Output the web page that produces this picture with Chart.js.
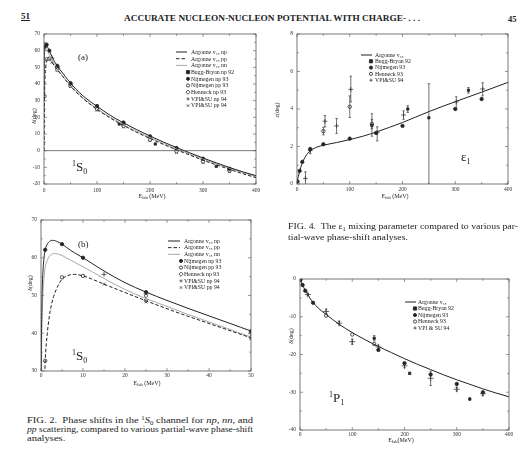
<!DOCTYPE html>
<html>
<head>
<meta charset="utf-8">
<script src="https://cdn.jsdelivr.net/npm/chart.js@4.4.1/dist/chart.umd.min.js"></script>
<style>
  html, body { margin: 0; padding: 0; background: #fff; }
  #page { position: relative; width: 523px; height: 453px; overflow: hidden; background: #fff;
          font-family: "Liberation Serif", "DejaVu Serif", serif; color: #222; }
  canvas { position: absolute; }
  .t { position: absolute; white-space: nowrap; line-height: 1; transform-origin: 0 50%; }
  .rot { position: absolute; white-space: nowrap; line-height: 1; transform: translate(-50%, -50%) rotate(-90deg); font-size: 6px; }
  .xt { position: absolute; white-space: nowrap; line-height: 1; transform: translate(-50%, -50%); font-size: 6px; }
  .xt sub { font-size: 4.5px; vertical-align: -1px; }
  .chan { position: absolute; white-space: nowrap; line-height: 1; font-size: 13px; }
  .chan sup { font-size: 8px; vertical-align: 5px; }
  .chan sub { font-size: 8px; vertical-align: -3px; }
  .cap sup { font-size: 5.5px; vertical-align: 3px; }
  .cap sub { font-size: 5.5px; vertical-align: -1.5px; }
</style>
</head>
<body>
<div id="page">
  <canvas id="cA"></canvas>
  <canvas id="cB"></canvas>
  <canvas id="cE"></canvas>
  <canvas id="cP"></canvas>

  <div class="t" style="left:21px; top:12px; font-size:9px; font-weight:bold; text-decoration:underline;">51</div>
  <div class="t fit" data-w="296" style="left:124px; top:14px; font-size:8.5px; font-weight:bold;">ACCURATE NUCLEON-NUCLEON POTENTIAL WITH CHARGE- . . .</div>
  <div class="t" style="left:508px; top:15px; font-size:8.5px; font-weight:bold;">45</div>

  <div class="t" style="left:78px; top:53px; font-size:9px;">(a)</div>
  <div class="t" style="left:78px; top:240px; font-size:9px;">(b)</div>

  <div class="chan" style="left:72px; top:160px;"><sup>1</sup>S<sub>0</sub></div>
  <div class="chan" style="left:72px; top:349px;"><sup>1</sup>S<sub>0</sub></div>
  <div class="chan" style="left:461px; top:150px;">ε<sub>1</sub></div>
  <div class="chan" style="left:329px; top:391px;"><sup>1</sup>P<sub>1</sub></div>

  <div class="rot" style="left:34px; top:116px;">δ(deg)</div>
  <div class="xt" style="left:152px; top:197px;">E<sub>lab</sub> (MeV)</div>
  <div class="rot" style="left:30px; top:283px;">δ(deg)</div>
  <div class="xt" style="left:147px; top:384px;">E<sub>lab</sub> (MeV)</div>
  <div class="rot" style="left:277px; top:110px;">ε(deg)</div>
  <div class="xt" style="left:395px; top:197px;">E<sub>lab</sub> (MeV)</div>
  <div class="rot" style="left:291px; top:336px;">δ(deg)</div>
  <div class="xt" style="left:401px; top:441px;">E<sub>lab</sub>(MeV)</div>

  <div class="cap" id="cap4">
    <div class="t fit" data-w="230" style="left:288px; top:222px; font-size:8.5px;">FIG. 4.&nbsp; The ε<sub>1</sub> mixing parameter compared to various par-</div>
    <div class="t" style="left:288px; top:233px; font-size:8.5px;">tial-wave phase-shift analyses.</div>
  </div>
  <div class="cap" id="cap2">
    <div class="t fit" data-w="226" style="left:27px; top:416px; font-size:8.5px;">FIG. 2.&nbsp; Phase shifts in the <sup>1</sup><i>S</i><sub>0</sub> channel for <i>np</i>, <i>nn</i>, and</div>
    <div class="t fit" data-w="226" style="left:27px; top:425px; font-size:8.5px;"><i>pp</i> scattering, compared to various partial-wave phase-shift</div>
    <div class="t" style="left:27px; top:434px; font-size:8.5px;">analyses.</div>
  </div>
</div>

<script>
// ---------- 1S0 phase shifts (deg) vs lab energy (MeV) ----------
const s0Energy = [0.05,0.1,0.2,0.3,0.5,0.7,1,1.5,2,2.5,3,4,5,6,7,8,10,12,15,20,25,30,35,40,45,50,60,75,100,125,150,175,200,225,250,275,300,325,350,375,400];
const s0Np = [29.7,38.4,47.2,52.0,57.0,59.8,62.1,63.6,64.3,64.6,64.6,64.2,63.6,62.8,62.0,61.3,60.0,58.6,56.5,53.4,50.9,48.7,46.6,44.6,42.6,40.6,37.0,32.5,26.6,21.2,16.7,12.6,8.8,5.2,1.9,-1.3,-4.4,-7.3,-10.1,-12.7,-15.0];
const s0Pp = [0,0.1,1.5,4.5,14,23,32.7,40.0,44.6,47.6,49.7,52.5,54.3,55.1,55.5,55.6,55.2,54.4,53.0,50.8,48.6,46.5,44.5,42.6,40.7,38.8,35.4,30.9,24.8,19.6,15.1,11.0,7.3,3.8,0.5,-2.6,-5.7,-8.5,-11.2,-13.8,-16.2];
const s0Nn = [24.0,32.0,40.6,45.6,51.4,54.5,57.4,59.3,60.4,60.9,61.1,61.0,60.6,60.0,59.4,58.8,57.6,56.4,54.5,51.6,49.2,47.1,45.0,43.0,41.0,39.0,35.7,31.3,25.2,20.1,15.6,11.6,7.9,4.4,1.1,-2.0,-5.0,-7.9,-10.6,-13.1,-15.5];

const s0BuggNpE = [142,210,325];
const s0BuggNp  = [16.0,4.0,-9.4];
const s0NijmE   = [1,5,10,25,50,100,150,200,250,300,350];
const s0NijmNp  = [62.1,63.6,60.0,50.9,40.5,26.8,16.9,8.6,1.6,-4.8,-10.9];
const s0NijmPp  = [32.7,54.8,55.2,48.7,38.9,24.9,14.8,6.6,-0.4,-6.5,-12.0];
const s0HenneckE  = [25];
const s0HenneckNp = [49.9];
const s0VpiE    = [15,25,50,100,150,200,250,300,350];
const s0VpiNp   = [55.6,50.4,39.9,25.6,15.8,7.8,0.8,-5.4,-11.5];
const s0VpiPp   = [53.0,48.3,38.5,24.3,14.2,6.0,-1.1,-7.2,-12.6];

// ---------- epsilon_1 mixing parameter (deg) ----------
const e1Energy = [0,1,2.5,5,7.5,10,15,20,25,30,40,50,75,100,125,150,175,200,250,300,350,400];
const e1Argonne = [0,0.2,0.4,0.66,0.92,1.12,1.42,1.63,1.77,1.87,1.99,2.07,2.21,2.37,2.55,2.77,3.02,3.28,3.86,4.39,4.9,5.42];
const e1BuggE = [142,210,250,325];
const e1Bugg  = [3.12,4.0,3.53,5.0];
const e1BuggLo = [2.55,3.82,-0.3,4.85];
const e1BuggHi = [3.75,4.18,5.35,5.15];
const e1NijmE = [1,5,10,25,50,100,150,200,300,350];
const e1Nijm  = [0.13,0.70,1.18,1.86,2.12,2.42,2.72,3.10,4.0,4.53];
const e1HenneckE = [50,100,142];
const e1Henneck  = [2.82,4.12,3.2];
const e1HenneckLo = [2.62,3.55,2.95];
const e1HenneckHi = [3.02,4.7,3.45];
const e1VpiE  = [16,25,53,75,102,152,202,302,352];
const e1Vpi   = [0.3,1.78,3.35,3.1,5.05,2.75,3.68,4.38,5.07];
const e1VpiLo = [-0.05,1.62,3.05,2.7,4.38,2.3,3.45,4.0,4.7];
const e1VpiHi = [0.65,1.95,3.65,3.5,5.75,3.05,3.9,4.65,5.4];

// ---------- 1P1 phase shifts (deg) ----------
const p1Energy = [0,2,5,10,15,20,25,35,50,75,100,125,150,175,200,225,250,275,300,325,350,375,400];
const p1Argonne = [0,-0.6,-1.6,-3.0,-4.1,-5.3,-6.2,-7.7,-9.4,-12.0,-14.2,-16.1,-17.9,-19.5,-21.1,-22.6,-24.0,-25.4,-26.7,-27.9,-29.1,-30.2,-31.2];
const p1BuggE = [142,210,325];
const p1Bugg  = [-15.7,-25.0,-31.8];
const p1BuggLo = [-16.4,-25.3,-32.1];
const p1BuggHi = [-15.0,-24.7,-31.5];
const p1NijmE = [1,5,10,25,150,200,250,300,350];
const p1Nijm  = [-0.2,-1.6,-3.1,-6.3,-18.8,-22.3,-25.3,-27.8,-30.0];
const p1HenneckE = [50,100,142];
const p1Henneck  = [-9.7,-14.7,-17.2];
const p1VpiE  = [15,50,75,100,150,200,250,300,350];
const p1Vpi   = [-4.1,-8.6,-11.7,-16.6,-18.0,-23.0,-26.3,-29.2,-30.4];
const p1VpiLo = [-4.4,-9.2,-12.2,-17.3,-18.5,-23.5,-28.2,-29.7,-30.9];
const p1VpiHi = [-3.8,-8.0,-11.2,-15.9,-17.5,-22.5,-24.4,-28.7,-29.9];

// tick values
const tickEnergy400 = [0,100,200,300,400];
const tickEnergy50  = [0,10,20,30,40,50];

// ---------- helpers ----------
const INK = '#222';
const FONT = '"Liberation Serif", "DejaVu Serif", serif';
const pts = (xs, ys) => xs.map((x, i) => ({ x, y: ys[i] }));

function curve(label, xs, ys, style) {
  return Object.assign({
    label, data: pts(xs, ys), showLine: true, pointRadius: 0,
    borderColor: INK, borderWidth: 1, cubicInterpolationMode: 'monotone', kind: 'line'
  }, style || {});
}
function marks(label, xs, ys, style, lo, hi) {
  return Object.assign({
    label, data: pts(xs, ys), showLine: false, pointRadius: 1.7, pointBorderWidth: 0.8,
    pointBorderColor: INK, pointBackgroundColor: INK, pointStyle: 'circle', kind: 'point',
    errLo: lo || null, errHi: hi || null
  }, style || {});
}
const FILLED_CIRCLE = { pointStyle: 'circle', pointBackgroundColor: INK };
const OPEN_CIRCLE   = { pointStyle: 'circle', pointBackgroundColor: '#fff' };
const OPEN_DIAMOND  = { pointStyle: 'rectRot', pointBackgroundColor: '#fff', pointRadius: 1.9 };
const FILLED_SQUARE = { pointStyle: 'rect', pointBackgroundColor: INK, pointRadius: 1.6 };
const PLUS          = { pointStyle: 'cross', pointRadius: 2.4, pointBorderWidth: 0.7 };
const TIMES         = { pointStyle: 'crossRot', pointRadius: 2.0, pointBorderWidth: 0.7 };

function drawMarker(ctx, ds, x, y) {
  const r = ds.pointRadius;
  ctx.save();
  ctx.strokeStyle = ds.pointBorderColor;
  ctx.fillStyle = ds.pointBackgroundColor;
  ctx.lineWidth = ds.pointBorderWidth;
  ctx.beginPath();
  switch (ds.pointStyle) {
    case 'rect': ctx.rect(x - r, y - r, 2 * r, 2 * r); ctx.fill(); ctx.stroke(); break;
    case 'rectRot': {
      const d = r * 1.3;
      ctx.moveTo(x, y - d); ctx.lineTo(x + d, y); ctx.lineTo(x, y + d); ctx.lineTo(x - d, y); ctx.closePath();
      ctx.fill(); ctx.stroke(); break;
    }
    case 'cross': ctx.moveTo(x - r, y); ctx.lineTo(x + r, y); ctx.moveTo(x, y - r); ctx.lineTo(x, y + r); ctx.stroke(); break;
    case 'crossRot': {
      const d = r * 0.75;
      ctx.moveTo(x - d, y - d); ctx.lineTo(x + d, y + d); ctx.moveTo(x + d, y - d); ctx.lineTo(x - d, y + d); ctx.stroke(); break;
    }
    default: ctx.arc(x, y, r, 0, Math.PI * 2); ctx.fill(); ctx.stroke();
  }
  ctx.restore();
}

// frame with inward ticks, optional zero line, error bars and an inset key
const paperPlot = {
  id: 'paperPlot',
  afterDatasetsDraw(chart, args, o) {
    const { ctx, scales: { x, y }, chartArea: a } = chart;
    ctx.save();
    ctx.beginPath(); ctx.rect(a.left, a.top, a.right - a.left, a.bottom - a.top); ctx.clip();
    chart.data.datasets.forEach(ds => {
      if (!ds.errLo) return;
      ctx.strokeStyle = '#333'; ctx.lineWidth = 0.7;
      ds.data.forEach((p, i) => {
        const px = x.getPixelForValue(p.x);
        const y1 = y.getPixelForValue(ds.errLo[i]);
        const y2 = y.getPixelForValue(ds.errHi[i]);
        ctx.beginPath();
        ctx.moveTo(px, y1); ctx.lineTo(px, y2);
        ctx.moveTo(px - 1.2, y1); ctx.lineTo(px + 1.2, y1);
        ctx.moveTo(px - 1.2, y2); ctx.lineTo(px + 1.2, y2);
        ctx.stroke();
      });
    });
    ctx.restore();
  },
  afterDraw(chart, args, o) {
    const { ctx, scales: { x, y }, chartArea: a } = chart;
    ctx.save();
    ctx.strokeStyle = '#555'; ctx.lineWidth = 0.8;
    ctx.strokeRect(a.left, a.top, a.right - a.left, a.bottom - a.top);
    if (o.zeroLine) {
      const py = y.getPixelForValue(0);
      ctx.beginPath(); ctx.moveTo(a.left, py); ctx.lineTo(a.right, py); ctx.stroke();
    }
    // inward tick marks: majors at labelled ticks, minors half-way
    const xt = x.ticks.map(t => t.value), yt = y.ticks.map(t => t.value);
    const half = v => v.slice(1).map((t, i) => (t + v[i]) / 2);
    ctx.lineWidth = 0.6;
    ctx.beginPath();
    const tx = (vals, len) => vals.forEach(v => { const p = x.getPixelForValue(v);
      ctx.moveTo(p, a.bottom); ctx.lineTo(p, a.bottom - len); ctx.moveTo(p, a.top); ctx.lineTo(p, a.top + len); });
    const ty = (vals, len) => vals.forEach(v => { const p = y.getPixelForValue(v);
      ctx.moveTo(a.left, p); ctx.lineTo(a.left + len, p); ctx.moveTo(a.right, p); ctx.lineTo(a.right - len, p); });
    tx(xt, 3); tx(half(xt), 1.8); ty(yt, 3); ty(half(yt), 1.8);
    ctx.stroke();

    // inset key
    const k = o.key;
    if (k) {
      ctx.font = k.size + 'px ' + FONT;
      ctx.textBaseline = 'middle';
      ctx.fillStyle = INK;
      let row = 0;
      chart.data.datasets.forEach(ds => {
        if (!ds.label) return;
        const yy = k.y + row * k.gap;
        if (ds.kind === 'line') {
          ctx.save();
          ctx.strokeStyle = ds.borderColor; ctx.lineWidth = ds.borderWidth;
          ctx.setLineDash(ds.borderDash || []);
          ctx.beginPath(); ctx.moveTo(k.x1, yy); ctx.lineTo(k.x2, yy); ctx.stroke();
          ctx.restore();
        } else {
          drawMarker(ctx, Object.assign({}, ds, { pointRadius: Math.min(ds.pointRadius, 1.6) }), k.mx, yy);
        }
        ctx.fillStyle = INK;
        ctx.fillText(ds.label, k.tx, yy + 0.3);
        row++;
      });
    }
    ctx.restore();
  }
};

function buildChart(id, box, xAxis, yAxis, datasets, opts) {
  const cv = document.getElementById(id);
  const left = box.l - 30, top = box.t - 6;
  const w = box.r - box.l + 36, h = box.b - box.t + 32;
  cv.style.left = left + 'px'; cv.style.top = top + 'px';
  cv.width = w; cv.height = h;
  cv.style.width = w + 'px'; cv.style.height = h + 'px';
  if (opts.key) {
    const k = opts.key;
    opts.key = { x1: k.x1 - left, x2: k.x2 - left, mx: k.mx - left, tx: k.tx - left, y: k.y - top, gap: k.gap, size: k.size };
  }
  const tickFont = { family: FONT, size: 5.5 };
  return new Chart(cv, {
    type: 'scatter',
    data: { datasets },
    options: {
      responsive: false, animation: false, devicePixelRatio: 1,
      layout: { padding: { left: 0, top: 6, right: 6, bottom: 0 } },
      plugins: { legend: { display: false }, tooltip: { enabled: false }, paperPlot: opts },
      scales: {
        x: {
          type: 'linear', min: xAxis.min, max: xAxis.max,
          grid: { display: false, drawTicks: false }, border: { display: false },
          afterBuildTicks: s => { s.ticks = xAxis.ticks.map(v => ({ value: v })); },
          ticks: { font: tickFont, color: '#333', padding: xAxis.pad, maxRotation: 0, autoSkip: false },
          afterFit: s => { s.height = 26; s.paddingLeft = 0; s.paddingRight = 0; }
        },
        y: {
          type: 'linear', min: yAxis.min, max: yAxis.max,
          grid: { display: false, drawTicks: false }, border: { display: false },
          afterBuildTicks: s => { s.ticks = yAxis.ticks.map(v => ({ value: v })); },
          ticks: { font: tickFont, color: '#333', padding: yAxis.pad, autoSkip: false },
          afterFit: s => { s.width = 30; s.paddingTop = 0; s.paddingBottom = 0; }
        }
      }
    },
    plugins: [paperPlot]
  });
}

const range = (a, b, s) => { const r = []; for (let v = a; v <= b + 1e-9; v += s) r.push(v); return r; };

// (a) 1S0, 0-400 MeV
buildChart('cA', { l: 44, t: 34, r: 256, b: 184 },
  { min: 0, max: 400, ticks: tickEnergy400, pad: 3.5 },
  { min: -20, max: 70, ticks: range(-20, 70, 10), pad: 4 },
  [
    curve('Argonne v₁₈ np', s0Energy, s0Np),
    curve('Argonne v₁₈ pp', s0Energy, s0Pp, { borderDash: [3.5, 2] }),
    curve('Argonne v₁₈ nn', s0Energy, s0Nn, { borderColor: '#a8a8a8' }),
    marks('Bugg-Bryan np 92', s0BuggNpE, s0BuggNp, FILLED_SQUARE),
    marks('Nijmegen np 93', s0NijmE, s0NijmNp, FILLED_CIRCLE),
    marks('Nijmegen pp 93', s0NijmE, s0NijmPp, OPEN_CIRCLE),
    marks('Henneck np 93', s0HenneckE, s0HenneckNp, OPEN_DIAMOND),
    marks('VPI&SU np 94', s0VpiE, s0VpiNp, PLUS),
    marks('VPI&SU pp 94', s0VpiE, s0VpiPp, TIMES)
  ],
  { zeroLine: true, key: { x1: 176, x2: 187, mx: 188, tx: 191, y: 52, gap: 6.7, size: 5.8 } });

// (b) 1S0, 0-50 MeV
buildChart('cB', { l: 41, t: 220, r: 251, b: 371 },
  { min: 0, max: 50, ticks: tickEnergy50, pad: 1.5 },
  { min: 30, max: 70, ticks: range(30, 70, 10), pad: 4 },
  [
    curve('Argonne v₁₈ np', s0Energy, s0Np),
    curve('Argonne v₁₈ pp', s0Energy, s0Pp, { borderDash: [3.5, 2] }),
    curve('Argonne v₁₈ nn', s0Energy, s0Nn, { borderColor: '#a8a8a8' }),
    marks('Nijmegen np 93', s0NijmE, s0NijmNp, FILLED_CIRCLE),
    marks('Nijmegen pp 93', s0NijmE, s0NijmPp, OPEN_CIRCLE),
    marks('Henneck np 93', s0HenneckE, s0HenneckNp, OPEN_DIAMOND),
    marks('VPI&SU np 94', s0VpiE, s0VpiNp, PLUS),
    marks('VPI&SU pp 94', s0VpiE, s0VpiPp, TIMES)
  ],
  { key: { x1: 168, x2: 180, mx: 181, tx: 184, y: 241, gap: 6.65, size: 5.8 } });

// epsilon_1
buildChart('cE', { l: 297, t: 34, r: 508, b: 184 },
  { min: 0, max: 400, ticks: tickEnergy400, pad: 2.5 },
  { min: 0, max: 8, ticks: range(0, 8, 2), pad: 4 },
  [
    curve('Argonne v₁₈', e1Energy, e1Argonne),
    marks('Bugg-Bryan 92', e1BuggE, e1Bugg, FILLED_SQUARE, e1BuggLo, e1BuggHi),
    marks('Nijmegen 93', e1NijmE, e1Nijm, FILLED_CIRCLE),
    marks('Henneck 93', e1HenneckE, e1Henneck, OPEN_CIRCLE, e1HenneckLo, e1HenneckHi),
    marks('VPI&SU 94', e1VpiE, e1Vpi, PLUS, e1VpiLo, e1VpiHi)
  ],
  { key: { x1: 361, x2: 372, mx: 371, tx: 375, y: 55, gap: 6.3, size: 5.8 } });

// 1P1
buildChart('cP', { l: 300, t: 279, r: 509, b: 430 },
  { min: 0, max: 400, ticks: tickEnergy400, pad: 1 },
  { min: -40, max: 0, ticks: range(-40, 0, 10), pad: 4 },
  [
    curve('Argonne v₁₈', p1Energy, p1Argonne),
    marks('Bugg-Bryan 92', p1BuggE, p1Bugg, FILLED_SQUARE, p1BuggLo, p1BuggHi),
    marks('Nijmegen 93', p1NijmE, p1Nijm, FILLED_CIRCLE),
    marks('Henneck 93', p1HenneckE, p1Henneck, OPEN_CIRCLE),
    marks('VPI & SU 94', p1VpiE, p1Vpi, Object.assign({}, PLUS, { pointRadius: 3 }), p1VpiLo, p1VpiHi)
  ],
  { key: { x1: 405, x2: 416, mx: 415, tx: 418, y: 302, gap: 6.5, size: 5.8 } });

// stretch justified text lines to their column width
document.querySelectorAll('.fit').forEach(el => {
  const w = el.getBoundingClientRect().width;
  const s = parseFloat(el.dataset.w) / w;
  el.style.transform = 'scaleX(' + s + ')';
  el.dataset.s = s;
});
['cap4', 'cap2'].forEach(id => {
  const first = document.querySelector('#' + id + ' .fit');
  document.querySelectorAll('#' + id + ' .t:not(.fit)').forEach(el => {
    el.style.transform = 'scaleX(' + first.dataset.s + ')';
  });
});
</script>
</body>
</html>
